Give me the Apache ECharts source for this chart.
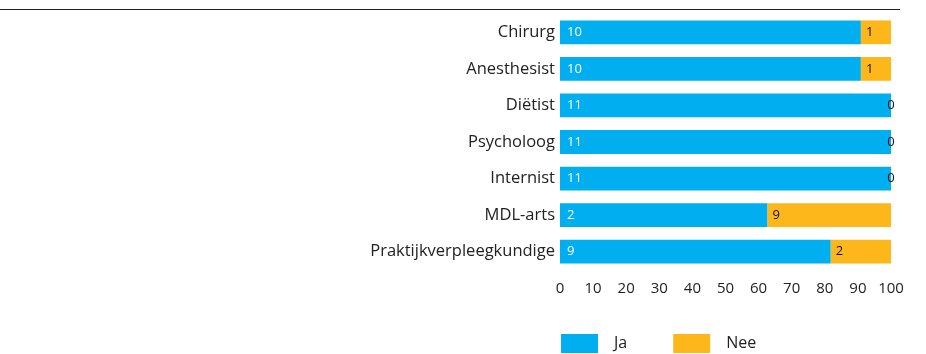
<!DOCTYPE html>
<html>
<head>
<meta charset="utf-8">
<script src="https://cdn.jsdelivr.net/npm/echarts@6/dist/echarts.min.js"></script>
<style>
  html, body { margin: 0; padding: 0; background: #fff; }
  #chart { width: 926px; height: 354px; }
</style>
</head>
<body>
<div id="chart"></div>
<script>
// Zorgverleners, top to bottom
const categories = ['Chirurg', 'Anesthesist', 'Diëtist', 'Psycholoog', 'Internist', 'MDL-arts', 'Praktijkverpleegkundige'];
// Share of respondents (%) per answer
const jaPct  = [90.9, 90.9, 100, 100, 100, 62.7, 81.8];
const neePct = [9.1, 9.1, 0, 0, 0, 37.3, 18.2];
// Number of respondents per answer (shown in the bars)
const jaCount  = [10, 10, 11, 11, 11, 2, 9];
const neeCount = [1, 1, 0, 0, 0, 9, 2];
const xTicks = [0, 10, 20, 30, 40, 50, 60, 70, 80, 90, 100];

const FONT = 'Open Sans';
const BLUE = '#01aeef';
const ORANGE = '#feb71b';

function seriesData(pct, counts) {
  return pct.map((v, i) => {
    const item = { value: v, count: counts[i] };
    if (v === 0) item.label = { position: 'inside' };
    return item;
  });
}

const chart = echarts.init(document.getElementById('chart'), null, { renderer: 'canvas' });
chart.setOption({
  animation: false,
  textStyle: { fontFamily: FONT },
  graphic: [{
    type: 'line',
    shape: { x1: 0, y1: 9.5, x2: 900, y2: 9.5 },
    style: { stroke: '#222', lineWidth: 1 }
  }],
  grid: { left: 560, right: 35, top: 14, bottom: 84 },
  legend: {
    left: 556, top: 329,
    itemWidth: 37, itemHeight: 19, itemGap: 46,
    icon: 'rect',
    textStyle: { fontFamily: FONT, fontSize: 16, color: '#222', padding: [0, 0, 0, 11] },
    data: ['Ja', 'Nee']
  },
  xAxis: {
    type: 'value', min: 0, max: 100, interval: 10,
    axisLine: { show: false }, axisTick: { show: false }, splitLine: { show: false },
    axisLabel: {
      fontFamily: FONT, fontSize: 15, color: '#222', margin: 11,
      formatter: v => xTicks.includes(v) ? String(v) : ''
    }
  },
  yAxis: {
    type: 'category', inverse: true, data: categories,
    axisLine: { show: false }, axisTick: { show: false },
    axisLabel: { fontFamily: FONT, fontSize: 16.5, color: '#222', margin: 5 }
  },
  series: [
    {
      name: 'Ja', type: 'bar', stack: 'total', barCategoryGap: '35%',
      itemStyle: { color: BLUE },
      label: {
        show: true, position: 'insideLeft', distance: 7,
        color: '#fff', fontFamily: FONT, fontSize: 13,
        formatter: p => String(p.data.count)
      },
      data: seriesData(jaPct, jaCount)
    },
    {
      name: 'Nee', type: 'bar', stack: 'total', barCategoryGap: '35%',
      itemStyle: { color: ORANGE },
      label: {
        show: true, position: 'insideLeft', distance: 5,
        color: '#111', fontFamily: FONT, fontSize: 13,
        formatter: p => String(p.data.count)
      },
      data: seriesData(neePct, neeCount)
    }
  ]
});
</script>
</body>
</html>
